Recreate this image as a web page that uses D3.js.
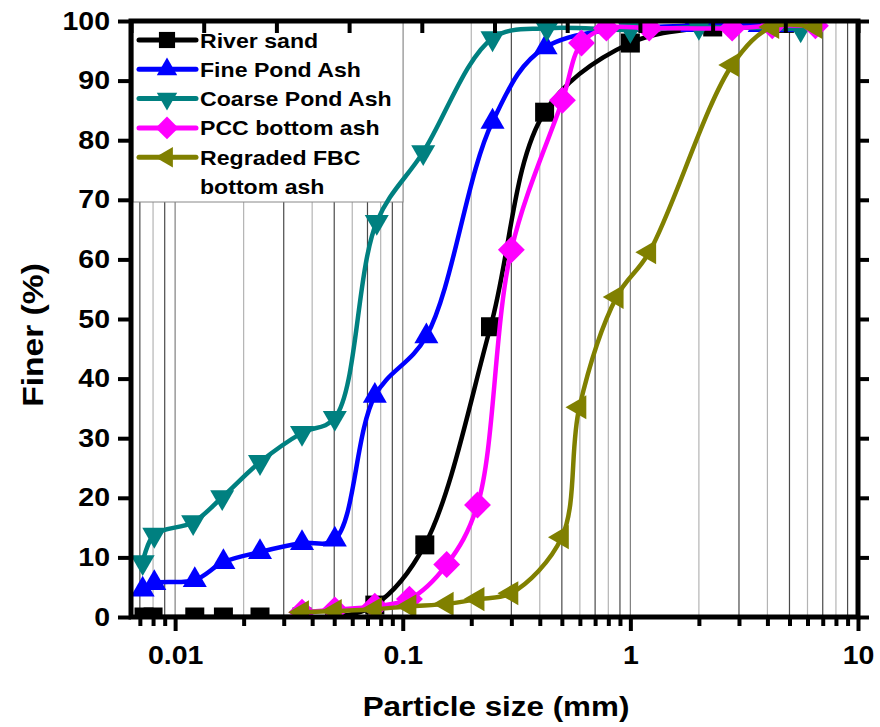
<!DOCTYPE html>
<html>
<head>
<meta charset="utf-8">
<script src="https://cdn.jsdelivr.net/npm/d3@7"></script>
<style>
    body { margin: 0; background: #fff; }
    svg text { font-family: "Liberation Sans", Arial, sans-serif; font-weight: bold; fill: #000; }
</style>
</head>
<body>
<div id="chart"></div>
<script>
// values (size in mm, % finer)
var riverSize = [0.0073, 0.008, 0.0122, 0.0163, 0.0236, 0.0361, 0.0503, 0.0754, 0.125, 0.243, 0.42, 1.0, 2.3, 4.75];
var riverFiner = [0, 0, 0, 0, 0, 0, 0, 2, 12.1, 48.7, 84.7, 96.3, 99, 99.6];

var fineSize = [0.0072, 0.0081, 0.0122, 0.0163, 0.0236, 0.0361, 0.0503, 0.0754, 0.127, 0.248, 0.424, 1.87, 3.7, 4.75];
var fineFiner = [4.6, 5.7, 6.2, 9.2, 10.9, 12.4, 13.0, 37.1, 47.1, 83.1, 95.6, 99.3, 99.3, 99.3];

var coarseSize = [0.0072, 0.0081, 0.012, 0.0161, 0.0236, 0.0361, 0.0503, 0.0769, 0.123, 0.248, 0.43, 1.0, 2.0, 5.6];
var coarseFiner = [9.2, 13.8, 15.9, 20.1, 26.0, 30.9, 33.4, 66.3, 78.0, 97.1, 98.8, 98.5, 99, 98.6];

var pccSize = [0.0361, 0.0503, 0.0754, 0.107, 0.156, 0.213, 0.30, 0.503, 0.61, 0.785, 1.21, 2.8, 4.2, 6.5];
var pccFiner = [0.8, 1.2, 1.8, 3.0, 8.8, 18.8, 61.6, 86.7, 96.3, 98.8, 98.8, 98.8, 99.2, 99.2];

var fbcSize = [0.0361, 0.0503, 0.0754, 0.107, 0.156, 0.213, 0.30, 0.50, 0.597, 0.87, 1.21, 2.8, 4.2, 6.5];
var fbcFiner = [0.8, 1.0, 1.3, 1.8, 2.2, 3.0, 4.0, 13.4, 35.2, 53.7, 61.2, 92.6, 99, 99];

var legendLabels = [["River sand"], ["Fine Pond Ash"], ["Coarse Pond Ash"], ["PCC bottom ash"], ["Regraded FBC", "bottom ash"]];
var xMajor = [0.01, 0.1, 1, 10];
var xTickLabels = ["0.01", "0.1", "1", "10"];
var yTicks = [0, 10, 20, 30, 40, 50, 60, 70, 80, 90, 100];
var topTicks = [0, 1, 2, 3, 4, 5, 6, 7, 8, 9, 10];

var Chart = {};

Chart.stretch = function (sel, k) {
    // the source picture is a bit wider than tall, so widen the glyphs
    sel.each(function () {
        var len = this.getComputedTextLength();
        d3.select(this).attr("textLength", len * k).attr("lengthAdjust", "spacingAndGlyphs");
    });
}

Chart.marker = function (type, scale) {
    var sq = d3.symbol(d3.symbolSquare, 19 * 19 * scale * scale)();
    var tri = d3.symbol(d3.symbolTriangle, 250 * scale * scale)();
    if (type === "square") return { d: sq, rot: 0 };
    if (type === "diamond") return { d: sq, rot: 45 };
    if (type === "up") return { d: tri, rot: 0 };
    if (type === "down") return { d: tri, rot: 180 };
    return { d: tri, rot: -90 };
}

Chart.makeChart = function (width, height) {
    var left = 131, right = 858, top = 21, bottom = 617;

    var series = [
        { size: riverSize, finer: riverFiner, color: "#000000", symbol: "square" },
        { size: fineSize, finer: fineFiner, color: "#0000ff", symbol: "up" },
        { size: coarseSize, finer: coarseFiner, color: "#008080", symbol: "down" },
        { size: pccSize, finer: pccFiner, color: "#ff00ff", symbol: "diamond" },
        { size: fbcSize, finer: fbcFiner, color: "#808000", symbol: "left" }
    ];

    var x = d3.scaleLog().domain([0.0064, 10]).range([left, right]);
    var y = d3.scaleLinear().domain([0, 100]).range([bottom, top]);
    var xTop = d3.scaleLinear().domain([0, 10]).range([left, right]);

    var minor = [];
    [0.001, 0.01, 0.1, 1].forEach(function (dec) {
        for (var m = 1; m <= 9; m++) {
            var v = +(dec * m).toPrecision(3);
            if (v >= 0.007 && v < 10) minor.push({ v: v, m: m });
        }
    });

    var svg = d3.select("#chart").append("svg")
        .attr("width", width)
        .attr("height", height);

    svg.append("defs").append("clipPath").attr("id", "plot-clip")
        .append("rect")
        .attr("x", left).attr("y", top)
        .attr("width", right - left).attr("height", bottom - top);

    // vertical grid
    svg.append("g")
        .selectAll("line")
        .data(minor)
        .join("line")
        .attr("x1", d => x(d.v)).attr("x2", d => x(d.v))
        .attr("y1", top).attr("y2", bottom)
        .attr("stroke", d => d.m === 1 ? "#808080" : (d.m % 2 ? "#4a4a4a" : "#b4b4b4"))
        .attr("stroke-width", 1.2);

    // legend box sits under the curves
    var legend = svg.append("g");
    legend.append("rect")
        .attr("x", 133).attr("y", top)
        .attr("width", 270).attr("height", 181)
        .attr("fill", "#fff")
        .attr("stroke", "#888")
        .attr("stroke-width", 1);

    var plot = svg.append("g").attr("clip-path", "url(#plot-clip)");
    var line = d3.line()
        .x(d => x(d[0]))
        .y(d => y(d[1]))
        .curve(d3.curveCatmullRom.alpha(0.5));

    series.forEach(function (s) {
        var pts = s.size.map((v, i) => [v, s.finer[i]]);
        plot.append("path")
            .attr("d", line(pts))
            .attr("fill", "none")
            .attr("stroke", s.color)
            .attr("stroke-width", 4.5);
        var mk = Chart.marker(s.symbol, 1);
        plot.append("g")
            .selectAll("path")
            .data(pts)
            .join("path")
            .attr("d", mk.d)
            .attr("transform", d => "translate(" + x(d[0]) + "," + y(d[1]) + ") rotate(" + mk.rot + ")")
            .attr("fill", s.color);
    });

    // legend entries
    series.forEach(function (s, i) {
        var cy = 40 + 29.3 * i;
        legend.append("line")
            .attr("x1", 139).attr("x2", 196)
            .attr("y1", cy).attr("y2", cy)
            .attr("stroke", s.color)
            .attr("stroke-width", 5)
            .attr("stroke-linecap", "round");
        var mk = Chart.marker(s.symbol, 0.85);
        legend.append("path")
            .attr("d", mk.d)
            .attr("transform", "translate(167," + cy + ") rotate(" + mk.rot + ")")
            .attr("fill", s.color);
        legendLabels[i].forEach(function (t, j) {
            legend.append("text")
                .attr("class", "leg")
                .attr("x", 200)
                .attr("y", cy + 29.3 * j)
                .attr("dy", "0.36em")
                .attr("font-size", 21)
                .text(t);
        });
    });
    Chart.stretch(legend.selectAll("text"), 1.1);

    // bottom axis: major ticks with labels, minor ticks without
    var xAxis = svg.append("g")
        .attr("transform", "translate(0," + bottom + ")")
        .call(d3.axisBottom(x)
            .tickValues(xMajor)
            .tickFormat((d, i) => xTickLabels[i])
            .tickSize(14)
            .tickPadding(15));
    svg.append("g")
        .attr("transform", "translate(0," + bottom + ")")
        .call(d3.axisBottom(x)
            .tickValues(minor.filter(d => d.m !== 1).map(d => d.v))
            .tickFormat("")
            .tickSize(9));

    var yAxis = svg.append("g")
        .attr("transform", "translate(" + left + ",0)")
        .call(d3.axisLeft(y)
            .tickValues(yTicks)
            .tickSize(13)
            .tickPadding(8));

    svg.append("g")
        .attr("transform", "translate(" + right + ",0)")
        .call(d3.axisLeft(y).tickValues(yTicks).tickFormat("").tickSize(-11));

    svg.append("g")
        .attr("transform", "translate(0," + top + ")")
        .call(d3.axisBottom(xTop).tickValues(topTicks).tickFormat("").tickSize(12));

    svg.selectAll(".domain").remove();
    svg.selectAll(".tick line")
        .attr("stroke", "#000")
        .attr("stroke-width", 4);
    svg.selectAll(".tick text")
        .attr("font-size", 25)
        .attr("font-family", null)
        .attr("fill", "#000");
    Chart.stretch(xAxis.selectAll("text"), 1.14);
    Chart.stretch(yAxis.selectAll("text"), 1.14);

    // frame
    svg.append("rect")
        .attr("x", left).attr("y", top)
        .attr("width", right - left).attr("height", bottom - top)
        .attr("fill", "none")
        .attr("stroke", "#000")
        .attr("stroke-width", 5);

    var xt = svg.append("text")
        .attr("x", 496).attr("y", 716)
        .attr("text-anchor", "middle")
        .attr("font-size", 28)
        .text("Particle size (mm)");
    Chart.stretch(xt, 1.12);

    var yt = svg.append("text")
        .attr("transform", "translate(43,335) rotate(-90)")
        .attr("text-anchor", "middle")
        .attr("font-size", 30)
        .text("Finer (%)");
    Chart.stretch(yt, 1.12);

    return svg.node();
}

Chart.makeChart(880, 727);
</script>
</body>
</html>
